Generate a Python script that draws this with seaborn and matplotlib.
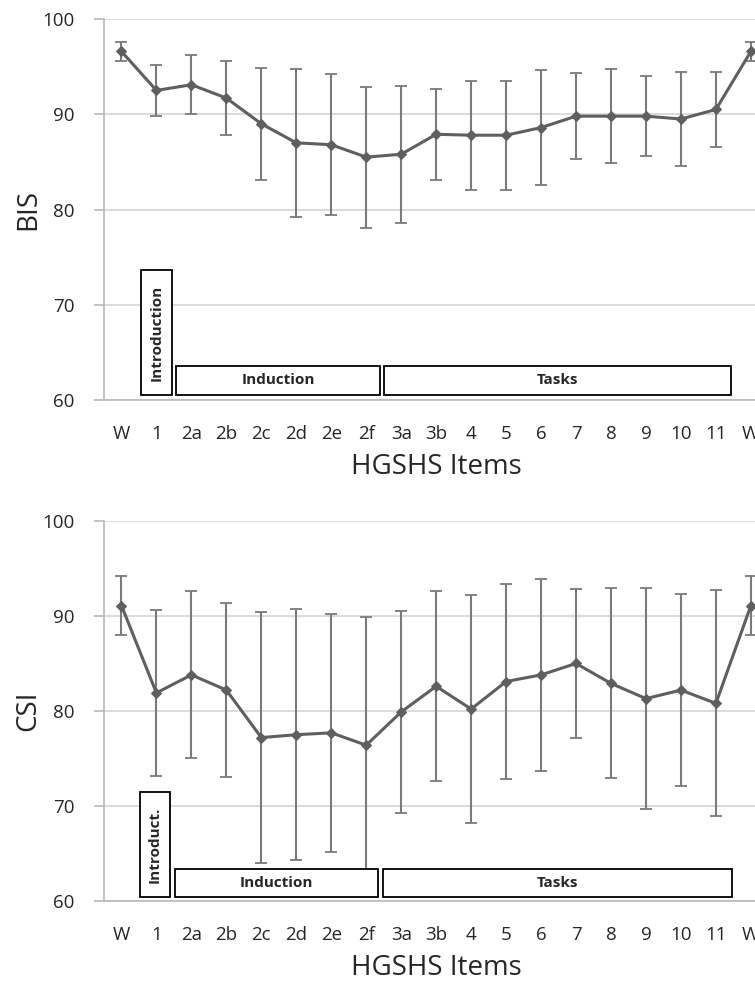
import matplotlib
matplotlib.use("Agg")
import matplotlib.pyplot as plt
import matplotlib.patches as mpatches
import numpy as np
import pandas as pd
import seaborn as sns

# HGSHS items along the x axis (W = wake, at start and end)
items = ["W", "1", "2a", "2b", "2c", "2d", "2e", "2f", "3a", "3b",
         "4", "5", "6", "7", "8", "9", "10", "11", "W"]

bis_mean = [96.6, 92.5, 93.1, 91.7, 89.0, 87.0, 86.8, 85.5, 85.8, 87.9,
            87.8, 87.8, 88.6, 89.8, 89.8, 89.8, 89.5, 90.5, 96.6]
bis_sd = [1.0, 2.7, 3.1, 3.9, 5.9, 7.8, 7.4, 7.4, 7.2, 4.8,
          5.7, 5.7, 6.0, 4.5, 4.9, 4.2, 4.9, 3.9, 1.0]

csi_mean = [91.1, 81.9, 83.8, 82.2, 77.2, 77.5, 77.7, 76.4, 79.9, 82.6,
            80.2, 83.1, 83.8, 85.0, 82.9, 81.3, 82.2, 80.8, 91.1]
csi_sd = [3.1, 8.7, 8.8, 9.2, 13.2, 13.2, 12.5, 13.5, 10.6, 10.0,
          12.0, 10.3, 10.1, 7.8, 10.0, 11.6, 10.1, 11.9, 3.1]

sns.set_theme(style="white")
plt.rcParams["font.family"] = ["Open Sans", "DejaVu Sans"]

line_col = "#5f5f5f"
bar_col = "#7a7a7a"
grid_col = "#d6d6d6"
spine_col = "#b8b8b8"


def draw_panel(ax, means, sds, ylabel, boxes):
	x = np.arange(len(items))
	df = pd.DataFrame({"pos": x, "value": means})
	ax.errorbar(x, means, yerr=sds, fmt="none", ecolor=bar_col,
	            elinewidth=1.5, capsize=4, capthick=1.3, zorder=2)
	sns.lineplot(data=df, x="pos", y="value", ax=ax, color=line_col,
	             marker="D", markersize=5.5, markeredgecolor=line_col,
	             linewidth=2.2, zorder=3)
	ax.set_xlim(-0.5, len(items) - 0.5)
	ax.set_ylim(60, 100)
	ax.set_yticks([60, 70, 80, 90, 100])
	ax.set_xticks(x)
	ax.set_xticklabels(items)
	ax.yaxis.grid(True, color=grid_col, linewidth=1.2)
	ax.xaxis.grid(False)
	for side in ["top", "right"]:
		ax.spines[side].set_visible(False)
	for side in ["left", "bottom"]:
		ax.spines[side].set_color(spine_col)
		ax.spines[side].set_linewidth(1.2)
	ax.tick_params(axis="y", which="both", left=True, length=7, width=1.2,
	               color=spine_col, labelsize=13.5, pad=14)
	ax.tick_params(axis="x", bottom=False, labelsize=13.5, pad=12)
	ax.set_ylabel(ylabel, fontsize=20, labelpad=0)
	ax.set_xlabel("HGSHS Items", fontsize=20, labelpad=7)

	# phase boxes
	for (x0, x1, y0, y1, label, rot) in boxes:
		rect = mpatches.Rectangle((x0, y0), x1 - x0, y1 - y0, facecolor="white",
		                          edgecolor="black", linewidth=1.3, zorder=4,
		                          clip_on=False)
		ax.add_patch(rect)
		ax.text((x0 + x1) / 2, (y0 + y1) / 2, label, rotation=rot,
		        ha="center", va="center", fontsize=11, fontweight="bold",
		        zorder=5)


fig = plt.figure(figsize=(7.55, 9.85), dpi=100)
ax_top = fig.add_axes([0.1377, 0.5939, 0.880, 0.3868])
ax_bot = fig.add_axes([0.1377, 0.0853, 0.880, 0.3858])

draw_panel(ax_top, bis_mean, bis_sd, "BIS", [
	(0.56, 1.44, 60.5, 73.7, "Introduction", 90),
	(1.55, 7.40, 60.5, 63.6, "Induction", 0),
	(7.51, 17.43, 60.5, 63.6, "Tasks", 0),
])
draw_panel(ax_bot, csi_mean, csi_sd, "CSI", [
	(0.53, 1.38, 60.4, 71.5, "Introduct.", 90),
	(1.53, 7.35, 60.4, 63.4, "Induction", 0),
	(7.48, 17.45, 60.4, 63.4, "Tasks", 0),
])

fig.savefig("out.png", dpi=100)
